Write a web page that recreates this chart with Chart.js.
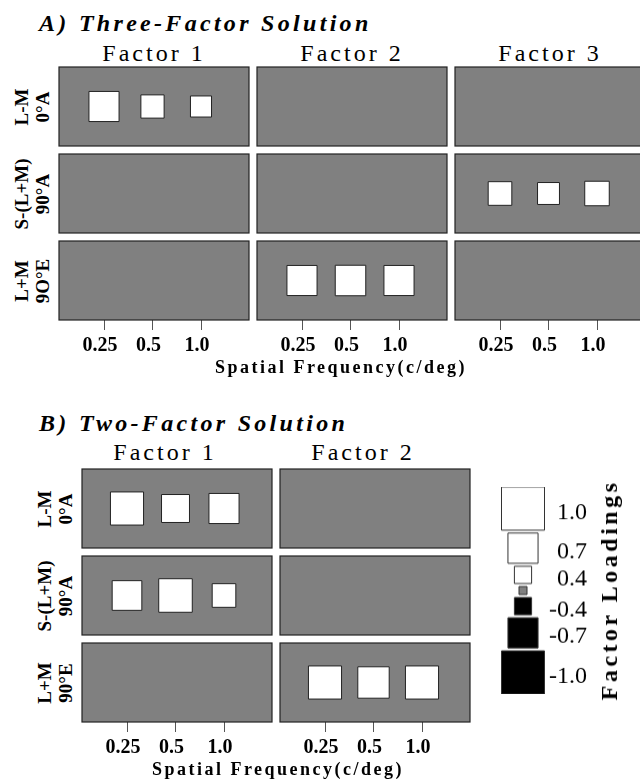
<!DOCTYPE html>
<html>
<head>
<meta charset="utf-8">
<script src="https://cdn.jsdelivr.net/npm/chart.js@4.4.1/dist/chart.umd.min.js"></script>
<style>
body { margin: 0; width: 640px; height: 780px; overflow: hidden; background: #fff; position: relative; font-family: "Liberation Serif", serif; color: #000; }
canvas, .t { position: absolute; }
.t { white-space: nowrap; line-height: 1; }
.title { font-weight: bold; font-style: italic; font-size: 24px; letter-spacing: 3.3px; }
.fac { font-size: 24px; letter-spacing: 3px; transform: translateX(-50%); }
.row { font-weight: bold; font-size: 19px; line-height: 21px; text-align: center; transform: translate(-50%, -50%) rotate(-90deg); }
.axt { font-weight: bold; font-size: 18px; letter-spacing: 2.5px; transform: translate(-50%, -50%); }
.leg { font-weight: bold; font-size: 24px; letter-spacing: 3.5px; transform: translate(-50%, -50%) rotate(-90deg); }
</style>
</head>
<body>
<script>
var freqs = ['0.25', '0.5', '1.0'];

var factorsA = ['Factor 1', 'Factor 2', 'Factor 3'];
var rowsA = [['L-M', '0°A'], ['S-(L+M)', '90°A'], ['L+M', '9O°E']];
// each row: factor 1 (0.25, 0.5, 1.0), factor 2 (...), factor 3 (...)
var loadA_LM  = [0.70, 0.54, 0.49, 0, 0, 0, 0, 0, 0];
var loadA_S   = [0, 0, 0, 0, 0, 0, 0.55, 0.51, 0.57];
var loadA_LpM = [0, 0, 0, 0.70, 0.71, 0.70, 0, 0, 0];

var factorsB = ['Factor 1', 'Factor 2'];
var rowsB = [['L-M', '0°A'], ['S-(L+M)', '90°A'], ['L+M', '90°E']];
var loadB_LM  = [0.77, 0.65, 0.70, 0, 0, 0];
var loadB_S   = [0.69, 0.78, 0.55, 0, 0, 0];
var loadB_LpM = [0, 0, 0, 0.77, 0.73, 0.77];

var legendVals = [1.0, 0.7, 0.4, 0, -0.4, -0.7, -1.0];
var legendLabels = ['1.0', '0.7', '0.4', '', '-0.4', '-0.7', '-1.0'];

var PANEL_W = 190, PANEL_H = 79, GAP_X = 8, GAP_Y = 8;
var TICK_STEP = 48.5, TICK_OFF = 45;
var AXIS_H = 44, PAD = 2;
var SQ = 43, LEG_GAP = 3;
var GRAY = '#808080';

Chart.defaults.font.family = '"Liberation Serif", serif';

function side(v) { return v === 0 ? 8 : SQ * Math.abs(v); }
function fill(v) { return v > 0 ? '#fff' : (v < 0 ? '#000' : GRAY); }

function addText(cls, text, left, top) {
    var d = document.createElement('div');
    d.className = 't ' + cls;
    d.innerHTML = text;
    d.style.left = left + 'px';
    d.style.top = top + 'px';
    document.body.appendChild(d);
    return d;
}

function makeCanvas(left, top, w, h) {
    var cv = document.createElement('canvas');
    cv.width = w; cv.height = h;
    cv.style.left = left + 'px'; cv.style.top = top + 'px';
    cv.style.width = w + 'px'; cv.style.height = h + 'px';
    document.body.appendChild(cv);
    return cv;
}

function makeSection(left, top, loads) {
    var nRows = loads.length, nCols = loads[0].length / 3;
    var pitch = (PANEL_W + GAP_X) / TICK_STEP;
    var x0 = 1 - TICK_OFF / TICK_STEP;
    var pw = PANEL_W / TICK_STEP;
    var ph = PANEL_H / (PANEL_H + GAP_Y);
    var areaW = nCols * PANEL_W + (nCols - 1) * GAP_X;
    var areaH = nRows * PANEL_H + (nRows - 1) * GAP_Y;
    var cv = makeCanvas(left - PAD, top - PAD, areaW + 2 * PAD, areaH + PAD + AXIS_H);

    var pts = [];
    loads.forEach(function(row, r) {
        row.forEach(function(v, k) {
            if (v !== 0) pts.push({ x: Math.floor(k / 3) * pitch + (k % 3) + 1, y: r, v: v });
        });
    });
    var tickVals = [];
    for (var c = 0; c < nCols; c++) {
        for (var i = 0; i < 3; i++) tickVals.push(c * pitch + i + 1);
    }

    var panels = {
        id: 'panels',
        beforeDatasetsDraw: function(chart) {
            var ctx = chart.ctx, xs = chart.scales.x, ys = chart.scales.y;
            ctx.save();
            for (var r = 0; r < nRows; r++) {
                for (var c = 0; c < nCols; c++) {
                    var xa = xs.getPixelForValue(c * pitch + x0);
                    var xb = xs.getPixelForValue(c * pitch + x0 + pw);
                    var ya = ys.getPixelForValue(r - ph / 2);
                    var yb = ys.getPixelForValue(r + ph / 2);
                    ctx.fillStyle = GRAY;
                    ctx.fillRect(xa, ya, xb - xa, yb - ya);
                    ctx.strokeStyle = '#222';
                    ctx.lineWidth = 1.2;
                    ctx.strokeRect(xa, ya, xb - xa, yb - ya);
                }
            }
            ctx.restore();
        }
    };

    new Chart(cv, {
        type: 'scatter',
        data: {
            datasets: [{
                data: pts,
                pointStyle: 'rect',
                pointRadius: function(ctx) { return ctx.raw ? side(ctx.raw.v) / Math.SQRT2 : 0; },
                backgroundColor: function(ctx) { return ctx.raw ? fill(ctx.raw.v) : '#fff'; },
                borderColor: '#222',
                borderWidth: 1
            }]
        },
        options: {
            responsive: false,
            animation: false,
            events: [],
            layout: { autoPadding: false, padding: { top: PAD, left: PAD, right: PAD, bottom: 0 } },
            plugins: { legend: { display: false }, tooltip: { enabled: false } },
            scales: {
                x: {
                    type: 'linear',
                    min: x0,
                    max: x0 + areaW / TICK_STEP,
                    afterBuildTicks: function(axis) {
                        axis.ticks = tickVals.map(function(v) { return { value: v }; });
                    },
                    afterFit: function(axis) { axis.height = AXIS_H; },
                    border: { display: false },
                    grid: { drawOnChartArea: false, drawTicks: true, tickLength: 10, color: '#555', lineWidth: 1 },
                    ticks: {
                        autoSkip: false,
                        maxRotation: 0,
                        padding: 4,
                        labelOffset: -4,
                        color: '#000',
                        font: { size: 20, weight: 'bold' },
                        callback: function(value, index) { return freqs[index % 3]; }
                    }
                },
                y: {
                    display: false,
                    reverse: true,
                    min: -ph / 2,
                    max: nRows - 1 + ph / 2
                }
            }
        },
        plugins: [panels]
    });
}

function makeHeaders(left, top, factors, rows, headTop, headShift) {
    factors.forEach(function(f, c) {
        addText('fac', f, left + c * (PANEL_W + GAP_X) + PANEL_W / 2 + headShift, headTop);
    });
    rows.forEach(function(lines, r) {
        addText('row', lines.join('<br>'), left - 27, top + r * (PANEL_H + GAP_Y) + PANEL_H / 2);
    });
}

// section A
var A_LEFT = 59, A_TOP = 67;
addText('title', 'A) Three-Factor Solution', 39, 11);
makeHeaders(A_LEFT, A_TOP, factorsA, rowsA, 41, 0);
makeSection(A_LEFT, A_TOP, [loadA_LM, loadA_S, loadA_LpM]);
addText('axt', 'Spatial Frequency(c/deg)', 341, 367);

// section B
var B_LEFT = 82, B_TOP = 469;
addText('title', 'B) Two-Factor Solution', 39, 411);
makeHeaders(B_LEFT, B_TOP, factorsB, rowsB, 440, -12);
makeSection(B_LEFT, B_TOP, [loadB_LM, loadB_S, loadB_LpM]);
addText('axt', 'Spatial Frequency(c/deg)', 278, 769);

// legend of square sizes
var legY = [], acc = 0;
legendVals.forEach(function(v) {
    var s = side(v);
    legY.push(acc + s / 2);
    acc += s + LEG_GAP;
});
var legTotal = acc - LEG_GAP;
var legCanvas = makeCanvas(443, 487 - PAD, 160, legTotal + 2 * PAD);

var legendText = {
    id: 'legendText',
    afterDatasetsDraw: function(chart) {
        var ctx = chart.ctx, xs = chart.scales.x;
        var meta = chart.getDatasetMeta(0);
        ctx.save();
        ctx.font = '24px "Liberation Serif"';
        ctx.fillStyle = '#000';
        ctx.textAlign = 'right';
        ctx.textBaseline = 'middle';
        meta.data.forEach(function(pt, i) {
            ctx.fillText(legendLabels[i], xs.getPixelForValue(0) + 64, pt.y + 4);
        });
        ctx.restore();
    }
};

new Chart(legCanvas, {
    type: 'scatter',
    data: {
        datasets: [{
            data: legendVals.map(function(v, i) { return { x: 0, y: legY[i], v: v }; }),
            pointStyle: 'rect',
            pointRadius: function(ctx) { return ctx.raw ? side(ctx.raw.v) / Math.SQRT2 : 0; },
            backgroundColor: function(ctx) { return ctx.raw ? fill(ctx.raw.v) : '#fff'; },
            borderColor: '#333',
            borderWidth: 1
        }]
    },
    options: {
        responsive: false,
        animation: false,
        events: [],
        layout: { autoPadding: false, padding: { top: PAD, bottom: PAD, left: 0, right: 0 } },
        plugins: { legend: { display: false }, tooltip: { enabled: false } },
        scales: {
            x: { display: false, min: -1, max: 1 },
            y: { display: false, reverse: true, min: 0, max: legTotal }
        }
    },
    plugins: [legendText]
});
addText('leg', 'Factor Loadings', 609, 590);
</script>
</body>
</html>
